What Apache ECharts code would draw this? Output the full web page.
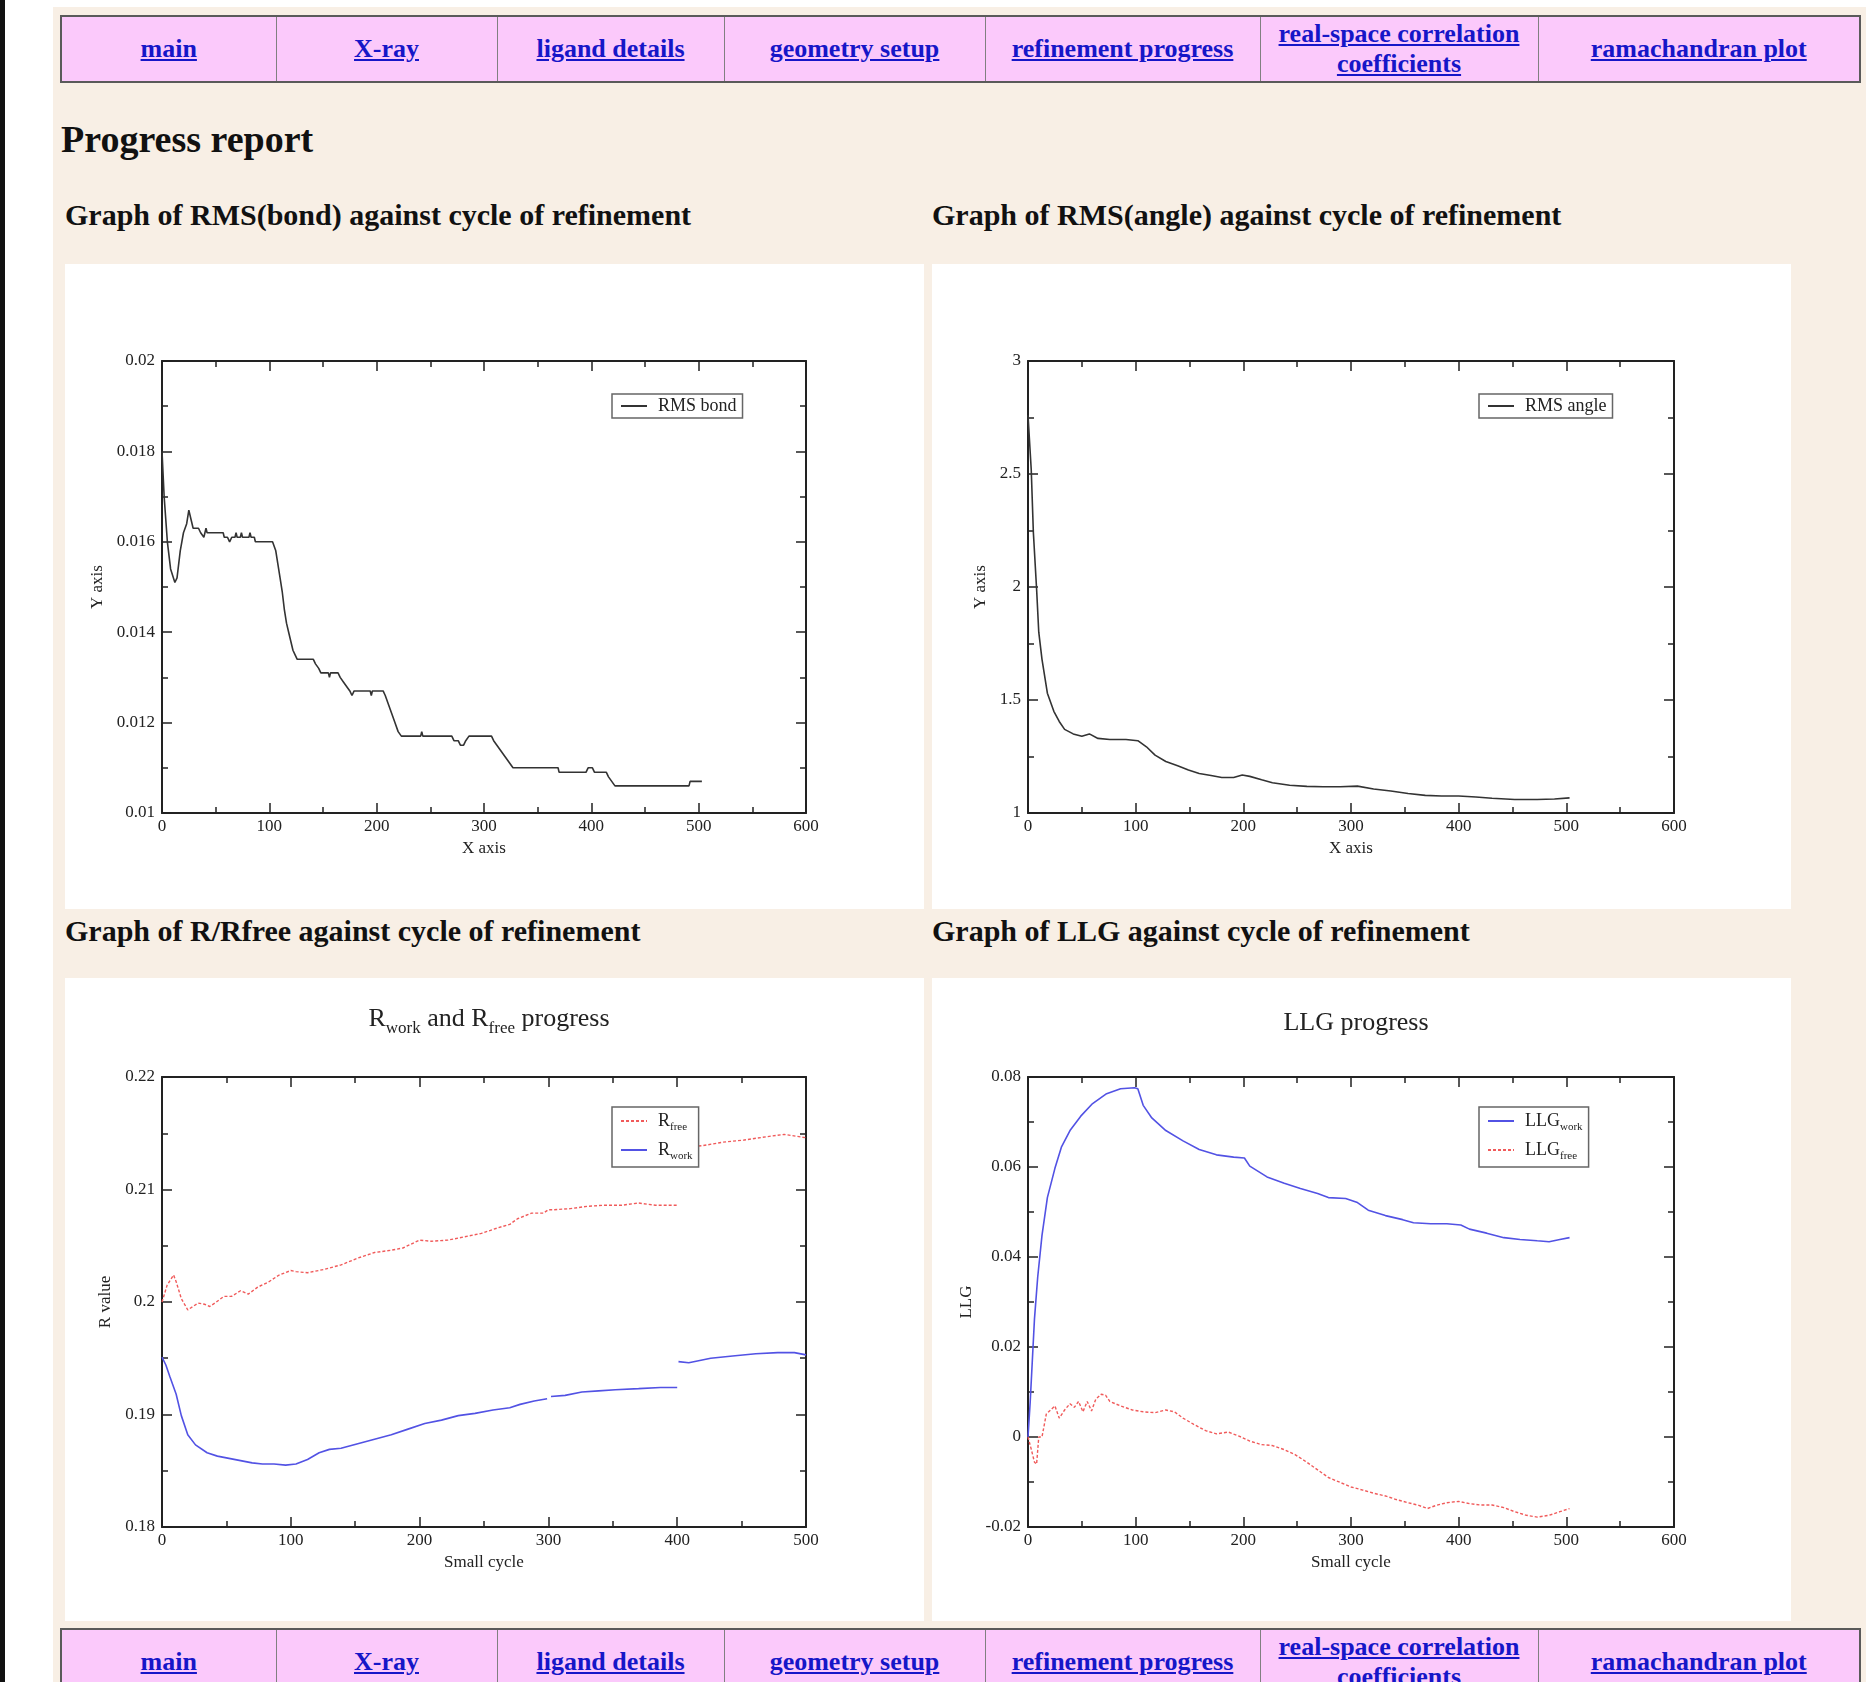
<!DOCTYPE html>
<html>
<head>
<meta charset="utf-8">
<title>Progress report</title>
<script src="https://cdn.jsdelivr.net/npm/echarts@6.0.0/dist/echarts.min.js"></script>
<style>
  html, body { margin: 0; padding: 0; }
  body { width: 1866px; height: 1682px; overflow: hidden; position: relative; background: #fff;
         font-family: "Liberation Serif", "Times New Roman", serif; color: #111; }
  .edge { position: absolute; left: 0; top: 0; width: 5px; height: 1682px; background: #111; }
  .page { position: absolute; left: 53px; top: 7px; right: 0; bottom: 0; background: #f8efe5; }
  table.nav { position: absolute; left: 60px; width: 1799px; height: 68px; border-collapse: collapse;
              table-layout: fixed; border: 2px solid #5a5a5a; background: #fbc9fb; }
  table.nav td { border: 1px solid #808080; text-align: center; vertical-align: middle; padding: 0 6px;
                 font-size: 26px; line-height: 30px; font-weight: bold; }
  table.nav a { color: #1616c8; }
  .h { position: absolute; margin: 0; font-weight: bold; white-space: nowrap; }
  .h2 { font-size: 38px; line-height: 42px; }
  .h3 { font-size: 30px; line-height: 34px; }
  .panel { position: absolute; width: 859px; background: #fff; }
</style>
</head>
<body>
<div class="edge"></div>
<div class="page"></div>

<table class="nav" style="top:15px">
  <colgroup><col style="width:215px"><col style="width:221px"><col style="width:227px"><col style="width:261px"><col style="width:275px"><col style="width:278px"><col style="width:322px"></colgroup>
  <tr>
    <td><a href="#">main</a></td><td><a href="#">X-ray</a></td><td><a href="#">ligand details</a></td>
    <td><a href="#">geometry setup</a></td><td><a href="#">refinement progress</a></td>
    <td><a href="#">real-space correlation coefficients</a></td><td><a href="#">ramachandran plot</a></td>
  </tr>
</table>

<div class="h h2" style="left:61px; top:118px">Progress report</div>
<div class="h h3" style="left:65px; top:198px">Graph of RMS(bond) against cycle of refinement</div>
<div class="h h3" style="left:932px; top:198px">Graph of RMS(angle) against cycle of refinement</div>
<div class="h h3" style="left:65px; top:914px">Graph of R/Rfree against cycle of refinement</div>
<div class="h h3" style="left:932px; top:914px">Graph of LLG against cycle of refinement</div>

<div class="panel" id="bond" style="left:65px; top:264px; height:645px"></div>
<div class="panel" id="angle" style="left:932px; top:264px; height:645px"></div>
<div class="panel" id="rfac" style="left:65px; top:978px; height:643px"></div>
<div class="panel" id="llg" style="left:932px; top:978px; height:643px"></div>

<table class="nav" style="top:1628px">
  <colgroup><col style="width:215px"><col style="width:221px"><col style="width:227px"><col style="width:261px"><col style="width:275px"><col style="width:278px"><col style="width:322px"></colgroup>
  <tr>
    <td><a href="#">main</a></td><td><a href="#">X-ray</a></td><td><a href="#">ligand details</a></td>
    <td><a href="#">geometry setup</a></td><td><a href="#">refinement progress</a></td>
    <td><a href="#">real-space correlation coefficients</a></td><td><a href="#">ramachandran plot</a></td>
  </tr>
</table>

<script>
// RMS(bond) per small cycle
var bondCycle = [0, 2, 5, 8, 12, 14, 17, 20, 23, 25, 27, 29, 34, 36, 39, 40, 41, 42, 57, 58, 61, 63, 65, 68, 69, 70, 73, 74, 75, 81, 82, 83, 86, 87, 103,
  106, 108, 110, 112, 114, 116, 118, 120, 122, 124, 126, 141, 143, 146, 148, 155, 156, 157, 164, 166, 169, 172, 175, 177, 179, 194, 195, 196,
  206, 208, 211, 214, 217, 220, 223, 241, 242, 243, 270, 272, 276, 278, 281, 283, 286, 307, 309, 312, 315, 318, 321, 324, 327, 369, 370,
  395, 397, 401, 403, 414, 416, 419, 422, 491, 492, 503];
var bondRms = [0.0180, 0.0170, 0.0160, 0.0154, 0.0151, 0.0152, 0.0158, 0.0162, 0.0164, 0.0167, 0.0165, 0.0163, 0.0163, 0.0162, 0.0161, 0.0161, 0.0163, 0.0162,
  0.0162, 0.0161, 0.0161, 0.0160, 0.0161, 0.0161, 0.0162, 0.0161, 0.0161, 0.0162, 0.0161, 0.0161, 0.0162, 0.0161, 0.0161, 0.0160, 0.0160,
  0.0158, 0.0155, 0.0152, 0.0149, 0.0145, 0.0142, 0.0140, 0.0138, 0.0136, 0.0135, 0.0134, 0.0134, 0.0133, 0.0132, 0.0131, 0.0131, 0.0130, 0.0131,
  0.0131, 0.0130, 0.0129, 0.0128, 0.0127, 0.0126, 0.0127, 0.0127, 0.0126, 0.0127, 0.0127, 0.0126, 0.0124, 0.0122, 0.0120, 0.0118, 0.0117,
  0.0117, 0.0118, 0.0117, 0.0117, 0.0116, 0.0116, 0.0115, 0.0115, 0.0116, 0.0117, 0.0117, 0.0116, 0.0115, 0.0114, 0.0113, 0.0112, 0.0111,
  0.0110, 0.0110, 0.0109, 0.0109, 0.0110, 0.0110, 0.0109, 0.0109, 0.0108, 0.0107, 0.0106, 0.0106, 0.0107, 0.0107];

// RMS(angle) per small cycle
var angleCycle = [0, 3, 5, 8, 10, 13, 18, 24, 29, 34, 42, 50, 57, 65, 76, 91, 102, 110, 118, 128, 139, 149, 159, 170, 180, 191, 199, 206, 217, 227,
  243, 259, 274, 290, 306, 321, 337, 353, 369, 384, 400, 416, 431, 452, 473, 489, 503];
var angleRms = [2.76, 2.52, 2.24, 1.99, 1.80, 1.68, 1.53, 1.45, 1.405, 1.37, 1.35, 1.34, 1.35, 1.33, 1.325, 1.325, 1.32, 1.293, 1.256, 1.228, 1.209,
  1.19, 1.175, 1.166, 1.157, 1.157, 1.168, 1.162, 1.147, 1.134, 1.123, 1.118, 1.116, 1.116, 1.119, 1.106, 1.097, 1.086, 1.078, 1.075, 1.075,
  1.071, 1.065, 1.06, 1.06, 1.062, 1.067];

// R-free / R-work (null = break between runs)
var rfreeCycle = [0, 4, 9, 11, 15, 20, 24, 28, 33, 37, 41, 48, 54, 61, 67, 74, 83, 91, 100, 104, 113, 126, 139, 152, 165, 178, 187, 200, 209, 222,
  235, 248, 261, 270, 276, 287, 296, 300, 304, 317, 330, 343, 357, 370, 383, 400, 400.5, 401, 420, 435, 452, 470, 483, 500];
var rfree = [0.2000, 0.2015, 0.2024, 0.2018, 0.2003, 0.1993, 0.1996, 0.1999, 0.1998, 0.1996, 0.1999, 0.2005, 0.2005, 0.2010, 0.2007, 0.2013, 0.2018,
  0.2024, 0.2028, 0.2027, 0.2026, 0.2029, 0.2033, 0.2039, 0.2044, 0.2046, 0.2048, 0.2055, 0.2054, 0.2055, 0.2058, 0.2061, 0.2066, 0.2069,
  0.2074, 0.2079, 0.2079, 0.2082, 0.2082, 0.2083, 0.2085, 0.2086, 0.2086, 0.2088, 0.2086, 0.2086, null, 0.2137, 0.2139, 0.2142, 0.2144,
  0.2147, 0.2149, 0.2146];
var rworkCycle = [0, 3, 6, 11, 15, 20, 26, 35, 43, 52, 61, 70, 78, 87, 96, 104, 113, 122, 130, 139, 152, 165, 178, 191, 204, 217, 230, 243, 257, 270,
  278, 289, 299, 300.5, 302, 313, 326, 339, 352, 370, 387, 400, 400.5, 401, 409, 426, 443, 461, 478, 491, 500];
var rwork = [0.1951, 0.1944, 0.1934, 0.1918, 0.1899, 0.1882, 0.1873, 0.1866, 0.1863, 0.1861, 0.1859, 0.1857, 0.1856, 0.1856, 0.1855, 0.1856, 0.1860,
  0.1866, 0.1869, 0.1870, 0.1874, 0.1878, 0.1882, 0.1887, 0.1892, 0.1895, 0.1899, 0.1901, 0.1904, 0.1906, 0.1909, 0.1912, 0.1914, null,
  0.1916, 0.1917, 0.1920, 0.1921, 0.1922, 0.1923, 0.1924, 0.1924, null, 0.1947, 0.1946, 0.1950, 0.1952, 0.1954, 0.1955, 0.1955, 0.1953];

// LLG work / free
var llgWorkCycle = [0, 2, 4, 6, 9, 13, 18, 25, 31, 39, 49, 60, 73, 86, 99, 102, 107, 115, 128, 144, 159, 175, 191, 201, 206, 222, 238, 253, 269, 279,
  295, 306, 316, 332, 348, 358, 374, 389, 402, 410, 426, 442, 457, 473, 484, 494, 503];
var llgWork = [0.0, 0.0076, 0.0169, 0.0262, 0.0355, 0.0448, 0.0532, 0.0597, 0.0644, 0.0681, 0.0713, 0.0741, 0.0763, 0.0774, 0.0776, 0.0774, 0.0737,
  0.0709, 0.0681, 0.0658, 0.0639, 0.0627, 0.0622, 0.0620, 0.0602, 0.0578, 0.0564, 0.0552, 0.0541, 0.0532, 0.0530, 0.0521, 0.0504, 0.0492,
  0.0483, 0.0476, 0.0474, 0.0474, 0.0471, 0.0462, 0.0453, 0.0443, 0.0439, 0.0436, 0.0434, 0.0439, 0.0443];
var llgFreeCycle = [0, 3, 6, 8, 10, 13, 17, 21, 25, 29, 34, 39, 43, 47, 51, 55, 59, 63, 68, 72, 76, 86, 97, 107, 118, 128, 136, 144, 154, 165, 175,
  186, 196, 206, 217, 227, 238, 248, 259, 269, 279, 290, 300, 311, 321, 332, 342, 353, 363, 371, 379, 389, 400, 410, 420, 431, 442, 452,
  463, 473, 484, 494, 503];
var llgFree = [0.0, -0.0027, -0.0056, -0.0060, 0.0, 0.0, 0.0051, 0.0060, 0.0069, 0.0042, 0.0060, 0.0074, 0.0066, 0.0079, 0.0056, 0.0079, 0.0058,
  0.0084, 0.0095, 0.0093, 0.0079, 0.0069, 0.0060, 0.0056, 0.0054, 0.0060, 0.0056, 0.0042, 0.0028, 0.0014, 0.0007, 0.0011, 0.0002, -0.0009,
  -0.0017, -0.0019, -0.0028, -0.0039, -0.0056, -0.0073, -0.0090, -0.0101, -0.0111, -0.0118, -0.0125, -0.0131, -0.0139, -0.0146, -0.0152,
  -0.0159, -0.0152, -0.0146, -0.0143, -0.0148, -0.0151, -0.0151, -0.0157, -0.0166, -0.0174, -0.0178, -0.0174, -0.0166, -0.0159];

var FONT = '"Liberation Serif", "Times New Roman", serif';
var INK = '#222';
var BLUE = '#5252e4';
var RED = '#f05a5a';

function pairs(xs, ys) {
  return xs.map(function (x, i) { return [x, ys[i] === null ? '-' : ys[i]]; });
}

// xmgrace-style frame: labelled axis plus a mirrored one with inward ticks only
function axes(kind, min, max, interval, name, nameGap) {
  var base = {
    type: 'value', min: min, max: max, interval: interval,
    axisLine: { show: true, onZero: false, lineStyle: { color: INK, width: 2 } },
    axisTick: { show: true, inside: true, length: 10, lineStyle: { color: INK, width: 1.5 } },
    minorTick: { show: true, splitNumber: 2, length: 6, lineStyle: { color: INK, width: 1.5 } },
    splitLine: { show: false },
    minorSplitLine: { show: false }
  };
  var main = Object.assign({}, base, {
    position: kind === 'x' ? 'bottom' : 'left',
    name: name, nameLocation: 'middle', nameGap: nameGap,
    nameTextStyle: { fontFamily: FONT, fontSize: 17, color: INK },
    axisLabel: {
      fontFamily: FONT, fontSize: 17, color: INK, margin: kind === 'x' ? 5 : 7,
      formatter: function (v) { return String(+v.toFixed(4)); }
    }
  });
  var mirror = Object.assign({}, base, {
    position: kind === 'x' ? 'top' : 'right',
    axisLabel: { show: false }
  });
  return [main, mirror];
}

function line(name, xs, ys, color, dashed) {
  return {
    name: name, type: 'line', xAxisIndex: 0, yAxisIndex: 0,
    data: pairs(xs, ys), symbol: 'none', showSymbol: false, connectNulls: false,
    lineStyle: { color: color, width: dashed ? 1.4 : 1.6, type: dashed ? [3, 2] : 'solid' },
    itemStyle: { color: color },
    animation: false
  };
}

function legend(items) {
  return {
    left: 547, top: 130, orient: 'vertical',
    backgroundColor: '#fff', borderColor: '#666', borderWidth: 1.5, borderRadius: 0,
    padding: [3, 6, 3, 8], itemWidth: 26, itemHeight: 10, itemGap: 4,
    itemStyle: { opacity: 0 },
    textStyle: {
      fontFamily: FONT, fontSize: 18, color: INK, padding: [0, 0, 0, 6],
      rich: {
        m: { fontFamily: FONT, fontSize: 18, color: INK, lineHeight: 24 },
        s: { fontFamily: FONT, fontSize: 11, color: INK, lineHeight: 8, verticalAlign: 'bottom' }
      }
    },
    data: items
  };
}

function grid(left, right, top, bottom) {
  return { left: left, right: right, top: top, bottom: bottom, containLabel: false, outerBoundsMode: 'none' };
}

var bondChart = echarts.init(document.getElementById('bond'));
bondChart.setOption({
  animation: false,
  grid: grid(97, 118, 97, 96),
  xAxis: axes('x', 0, 600, 100, 'X axis', 24),
  yAxis: axes('y', 0.01, 0.02, 0.002, 'Y axis', 46),
  legend: legend([{ name: 'RMS bond' }]),
  series: [line('RMS bond', bondCycle, bondRms, '#333', false)]
});

var angleChart = echarts.init(document.getElementById('angle'));
angleChart.setOption({
  animation: false,
  grid: grid(96, 117, 97, 96),
  xAxis: axes('x', 0, 600, 100, 'X axis', 24),
  yAxis: axes('y', 1, 3, 0.5, 'Y axis', 26),
  legend: legend([{ name: 'RMS angle' }]),
  series: [line('RMS angle', angleCycle, angleRms, '#333', false)]
});

var rfacChart = echarts.init(document.getElementById('rfac'));
rfacChart.setOption({
  animation: false,
  title: {
    text: '{m|R}{s|work}{m| and R}{s|free}{m| progress}',
    left: 419, top: 18, textAlign: 'center',
    textStyle: {
      fontWeight: 'normal',
      rich: {
        m: { fontFamily: FONT, fontSize: 26, fontWeight: 'normal', color: INK, lineHeight: 36 },
        s: { fontFamily: FONT, fontSize: 17, fontWeight: 'normal', color: INK, lineHeight: 10, verticalAlign: 'bottom' }
      }
    }
  },
  grid: grid(97, 118, 99, 94),
  xAxis: axes('x', 0, 500, 100, 'Small cycle', 24),
  yAxis: axes('y', 0.18, 0.22, 0.01, 'R value', 36),
  legend: Object.assign(legend([{ name: 'Rfree' }, { name: 'Rwork' }]), {
    top: 129, padding: [5, 6, 5, 8], itemGap: 8,
    formatter: function (n) { return '{m|R}{s|' + n.slice(1) + '}'; }
  }),
  series: [
    line('Rfree', rfreeCycle, rfree, RED, true),
    line('Rwork', rworkCycle, rwork, BLUE, false)
  ]
});

var llgChart = echarts.init(document.getElementById('llg'));
llgChart.setOption({
  animation: false,
  title: {
    text: 'LLG progress', left: 419, top: 27, textAlign: 'center',
    textStyle: { fontFamily: FONT, fontSize: 26, fontWeight: 'normal', color: INK }
  },
  grid: grid(96, 117, 99, 94),
  xAxis: axes('x', 0, 600, 100, 'Small cycle', 24),
  yAxis: axes('y', -0.02, 0.08, 0.02, 'LLG', 41),
  legend: Object.assign(legend([{ name: 'LLGwork' }, { name: 'LLGfree' }]), {
    top: 129, padding: [5, 6, 5, 8], itemGap: 8,
    formatter: function (n) { return '{m|LLG}{s|' + n.slice(3) + '}'; }
  }),
  series: [
    line('LLGwork', llgWorkCycle, llgWork, BLUE, false),
    line('LLGfree', llgFreeCycle, llgFree, RED, true)
  ]
});
</script>
</body>
</html>
